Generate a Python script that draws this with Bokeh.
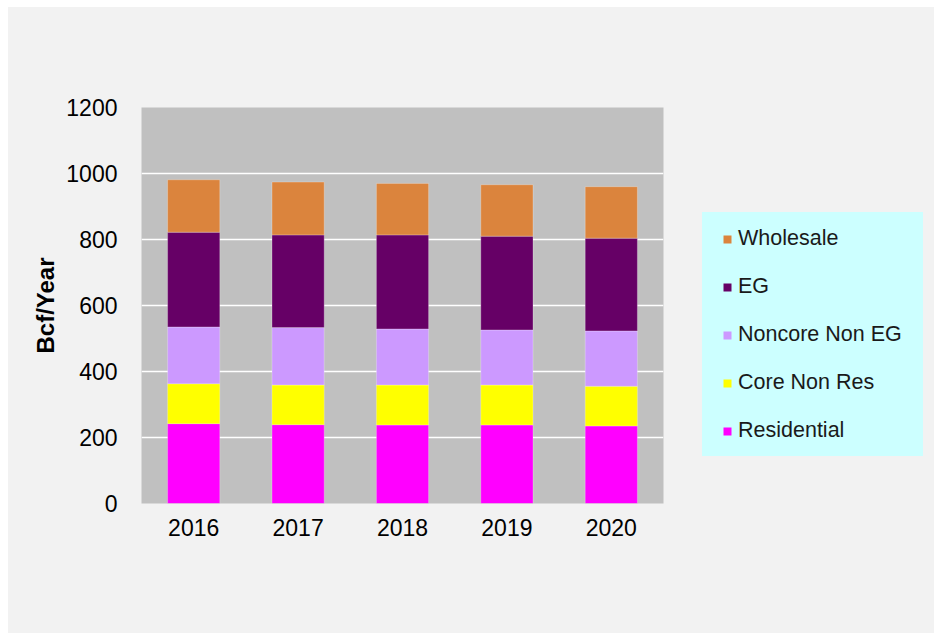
from bokeh.plotting import figure
from bokeh.models import Legend, LegendItem, ColumnDataSource, SingleIntervalTicker, Range1d
from bokeh.layouts import row
from bokeh.embed import file_html
from bokeh.resources import INLINE

years = ["2016", "2017", "2018", "2019", "2020"]
residential = [242, 239, 238, 238, 235]
core_non_res = [121, 120, 121, 121, 120]
noncore_non_eg = [172, 174, 170, 167, 168]
eg = [287, 281, 285, 284, 281]
wholesale = [159, 160, 156, 156, 156]

series = ["Residential", "Core Non Res", "Noncore Non EG", "EG", "Wholesale"]
colors = ["#ff00ff", "#ffff00", "#cc99ff", "#660066", "#db843d"]

source = ColumnDataSource(data={
    "year": years,
    "Residential": residential,
    "Core Non Res": core_non_res,
    "Noncore Non EG": noncore_non_eg,
    "EG": eg,
    "Wholesale": wholesale,
})

FONT = "Liberation Sans"
PANEL = "#f2f2f2"
LEGBG = "#ccffff"

p = figure(x_range=years, y_range=(0, 1200), width=694, height=626,
           output_backend="svg", toolbar_location=None,
           min_border_left=133, min_border_right=39,
           min_border_top=100, min_border_bottom=130,
           border_fill_color=PANEL, background_fill_color="#c0c0c0",
           outline_line_color=None)
p.margin = 0

renderers = p.vbar_stack(series, x="year", width=0.5, source=source,
                         fill_color=colors, line_color="white",
                         line_alpha=0.25, line_width=1)

p.xgrid.grid_line_color = None
p.ygrid.grid_line_color = "white"
p.ygrid.grid_line_width = 1.5
p.yaxis.ticker = SingleIntervalTicker(interval=200)

for ax in (p.xaxis[0], p.yaxis[0]):
    ax.axis_line_color = None
    ax.major_tick_line_color = None
    ax.minor_tick_line_color = None
    ax.major_tick_out = 0
    ax.major_tick_in = 0
    ax.minor_tick_out = 0
    ax.major_label_text_font = FONT
    ax.major_label_text_font_size = "23px"
    ax.major_label_text_color = "black"

p.yaxis.major_label_standoff = 24
p.xaxis.major_label_standoff = 15
p.yaxis.axis_label = "Bcf/Year"
p.yaxis.axis_label_text_font = FONT
p.yaxis.axis_label_text_font_size = "24px"
p.yaxis.axis_label_text_font_style = "bold"
p.yaxis.axis_label_text_color = "black"
p.yaxis.axis_label_standoff = 4

# legend panel: zero-width copies of the stacks, used only for legend swatches
q = figure(width=232, height=626, output_backend="svg", toolbar_location=None,
           x_range=years, y_range=Range1d(-2, -1),
           min_border=0, border_fill_color=PANEL, background_fill_color=None,
           outline_line_color=None)
q.margin = 0
q.axis.visible = False
q.grid.visible = False

swatches = q.vbar_stack(series, x="year", width=0, source=source,
                        fill_color=colors, line_color=None)

items = [LegendItem(label=s, renderers=[r]) for s, r in zip(series, swatches)]
items.reverse()
legend = Legend(items=items, location=(0, 47))
legend.background_fill_color = LEGBG
legend.background_fill_alpha = 1
legend.border_line_color = LEGBG
legend.border_line_width = 1
legend.label_text_font = FONT
legend.label_text_font_size = "21.5px"
legend.label_text_color = "#1a1a1a"
legend.glyph_width = 10
legend.glyph_height = 10
legend.label_height = 24
legend.label_standoff = 6
legend.spacing = 23
try:
    legend.padding = (19, 20, 13, 12)
except Exception:
    legend.padding = 16
legend.margin = 0
q.add_layout(legend, "center")

layout = row(p, q)
layout.margin = (7, 0, 0, 8)
layout.spacing = 0
layout.styles = {"background-color": PANEL}

open("out.html", "w").write(file_html(layout, INLINE))
